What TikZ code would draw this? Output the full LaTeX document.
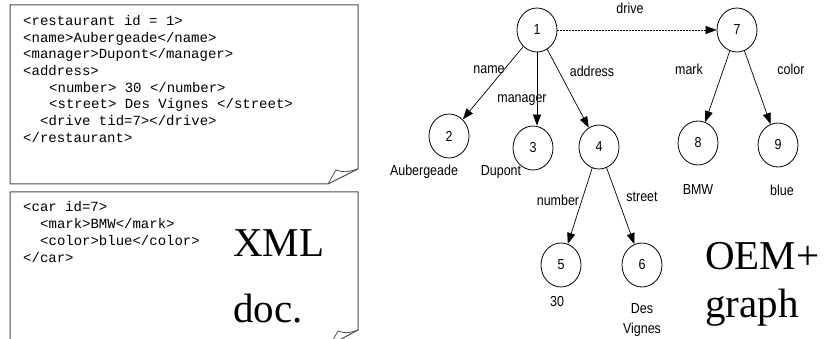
\documentclass[tikz,border=0pt]{standalone}
\usepackage{fontspec}
\setmainfont{Liberation Serif}
\setsansfont{Liberation Sans}
\setmonofont{Liberation Mono}
\usetikzlibrary{shapes.geometric,arrows.meta}
\newcommand{\narrow}[1]{\scalebox{0.86}[1]{#1}}
\begin{document}
\begin{tikzpicture}[x=1pt,y=-1pt,
  docbox/.style={draw=black!70,line width=1pt,line join=miter},
  code/.style={anchor=base west,inner sep=0pt,font=\ttfamily\fontsize{14}{16}\selectfont},
  big/.style={anchor=base west,inner sep=0pt,font=\rmfamily\fontsize{41}{41}\selectfont},
  obj/.style={draw,ellipse,line width=0.8pt,minimum width=40pt,minimum height=44pt,inner sep=0pt,font=\sffamily\fontsize{14.5}{16}\selectfont},
  lbl/.style={inner sep=0pt,font=\sffamily\fontsize{14.5}{18}\selectfont},
  edge/.style={line width=0.7pt,-{Triangle[length=11pt,width=8pt]}},
  link/.style={line width=0.6pt,dash pattern=on 2pt off 1pt,-{Triangle[length=11pt,width=8pt]}}]
\useasboundingbox (0,0) rectangle (825,339);
\clip (0,0) rectangle (825,339);
% XML documents
\draw[docbox] (10,5) -- (358,5) -- (358,169) -- (328,184) -- (10,184) -- cycle;
\draw[docbox,line width=0.8pt] (328,184) -- (336,170) .. controls (345,172.5) .. (358,169);
\draw[docbox] (10,192) -- (358,192) -- (358,330) -- (330,345) -- (10,345) -- cycle;
\draw[docbox,line width=0.8pt] (330,345) -- (338,331) .. controls (347,333.5) .. (358,330);
\node[code] (c1) at (23,25.5) {<restaurant id = 1>};
\node[code] (c2) at (23,42.2) {<name>Aubergeade</name>};
\node[code] (c3) at (23,58.8) {<manager>Dupont</manager>};
\node[code] (c4) at (23,75.5) {<address>};
\node[code] (c5) at (49,92.2) {<number> 30 </number>};
\node[code] (c6) at (49,108.8) {<street> Des Vignes </street>};
\node[code] (c7) at (40,125.5) {<drive tid=7></drive>};
\node[code] (c8) at (23,142.2) {</restaurant>};
\node[code] (d1) at (23,212) {<car id=7>};
\node[code] (d2) at (40,228.7) {<mark>BMW</mark>};
\node[code] (d3) at (40,245.3) {<color>blue</color>};
\node[code] (d4) at (23,262) {</car>};
\node[big] (xml) at (233,257) {XML};
\node[big] (doc) at (233,322) {doc.};
% OEM graph
\node[obj] (n1) at (537,30) {\narrow{1}};
\node[obj] (n7) at (737,30) {\narrow{7}};
\node[obj] (n2) at (449,136) {\narrow{2}};
\node[obj] (n3) at (533,148) {\narrow{3}};
\node[obj] (n4) at (599,147) {\narrow{4}};
\node[obj] (n8) at (698,143) {\narrow{8}};
\node[obj] (n9) at (778,145) {\narrow{9}};
\node[obj] (n5) at (561,265) {\narrow{5}};
\node[obj] (n6) at (642,265) {\narrow{6}};
\draw[link] (n1.east) -- (n7.west);
\draw[edge] (n1) -- (n2);
\draw[edge] (n1.south) -- (n1.south |- n3.north);
\draw[edge] (n1) -- (n4);
\draw[edge] (n7) -- (n8);
\draw[edge] (n7) -- (n9);
\draw[edge] (n4) -- (n5);
\draw[edge] (n4) -- (n6);
\node[lbl] (ldrive) at (630,8) {\narrow{drive}};
\node[lbl] (lname) at (489,70) {\narrow{name}};
\node[lbl] (lmanager) at (522,100) {\narrow{manager}};
\node[lbl] (laddress) at (592,71) {\narrow{address}};
\node[lbl] (lmark) at (689,69) {\narrow{mark}};
\node[lbl] (lcolor) at (791,69) {\narrow{color}};
\node[lbl] (lauber) at (424,172) {\narrow{Aubergeade}};
\node[lbl] (ldupont) at (501,172) {\narrow{Dupont}};
\node[lbl] (lbmw) at (698,190) {\narrow{BMW}};
\node[lbl] (lblue) at (782,190) {\narrow{blue}};
\node[lbl] (lnumber) at (558,200) {\narrow{number}};
\node[lbl] (lstreet) at (642,197) {\narrow{street}};
\node[lbl] (l30) at (557,302) {\narrow{30}};
\node[lbl] (ldes) at (642,309) {\narrow{Des}};
\node[lbl] (lvignes) at (642,330) {\narrow{Vignes}};
\node[big] (oem) at (705,270) {OEM+};
\node[big] (graph) at (705,317) {graph};
\end{tikzpicture}
\end{document}
